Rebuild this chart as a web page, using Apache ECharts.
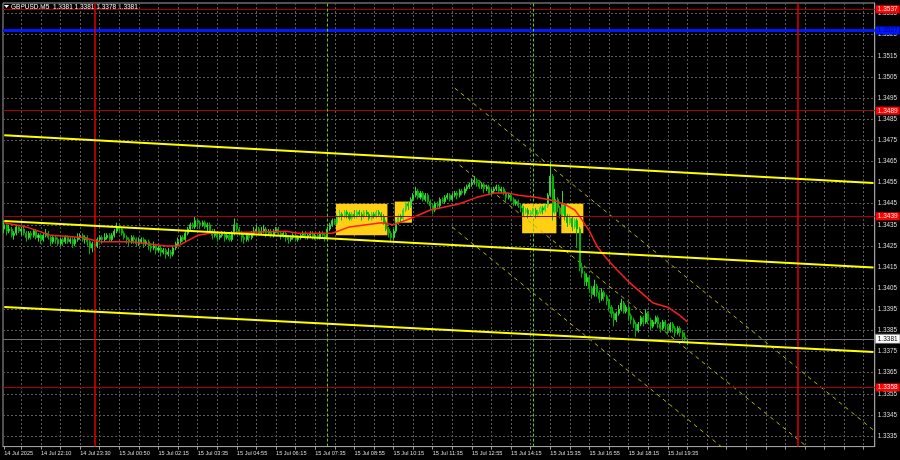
<!DOCTYPE html>
<html><head><meta charset="utf-8">
<script src="https://cdn.jsdelivr.net/npm/echarts@6/dist/echarts.min.js"></script>
<style>html,body{margin:0;padding:0;background:#000;}#c{width:900px;height:460px;}</style>
</head><body><div id="c"></div>
<script>
// ---------- DATA ----------
const symbolTitle = 'GBPUSD,M5  1.3381 1.3381 1.3378 1.3381';
const xTickIndex = [0, 15, 31, 47, 63, 79, 95, 111, 127, 143, 159, 175, 191, 207, 223, 239, 255, 271];
const xTickLabels = ['14 Jul 2025', '14 Jul 22:10', '14 Jul 23:30', '15 Jul 00:50', '15 Jul 02:15', '15 Jul 03:35',
  '15 Jul 04:55', '15 Jul 06:15', '15 Jul 07:35', '15 Jul 08:55', '15 Jul 10:15', '15 Jul 11:35', '15 Jul 12:55',
  '15 Jul 14:15', '15 Jul 15:35', '15 Jul 16:55', '15 Jul 18:15', '15 Jul 19:35'];
// [open, close, low, high]
const candles = [
[1.3433,1.3435,1.3431,1.3437],[1.3435,1.3432,1.3430,1.3436],[1.3432,1.3433,1.3431,1.3435],[1.3433,1.3430,1.3429,1.3434],
[1.3430,1.3431,1.3428,1.3432],[1.3431,1.3434,1.3430,1.3435],[1.3434,1.3432,1.3431,1.3435],[1.3432,1.3433,1.3430,1.3434],
[1.3433,1.3431,1.3430,1.3434],[1.3431,1.3429,1.3427,1.3432],[1.3429,1.3431,1.3428,1.3432],[1.3431,1.3430,1.3428,1.3432],
[1.3430,1.3432,1.3429,1.3433],[1.3432,1.3429,1.3428,1.3433],[1.3429,1.3430,1.3427,1.3431],[1.3430,1.3428,1.3426,1.3431],
[1.3428,1.3430,1.3427,1.3431],[1.3430,1.3431,1.3429,1.3433],[1.3431,1.3429,1.3428,1.3432],[1.3429,1.3427,1.3425,1.3430],
[1.3427,1.3429,1.3426,1.3430],[1.3429,1.3428,1.3426,1.3430],[1.3428,1.3426,1.3425,1.3429],[1.3426,1.3428,1.3425,1.3429],
[1.3428,1.3427,1.3425,1.3429],[1.3427,1.3429,1.3426,1.3430],[1.3429,1.3427,1.3426,1.3430],[1.3427,1.3428,1.3426,1.3429],
[1.3428,1.3426,1.3424,1.3429],[1.3426,1.3428,1.3425,1.3429],[1.3428,1.3429,1.3427,1.3431],[1.3429,1.3430,1.3428,1.3431],
[1.3430,1.3428,1.3427,1.3431],[1.3428,1.3429,1.3426,1.3430],[1.3429,1.3427,1.3425,1.3430],[1.3427,1.3424,1.3421,1.3428],
[1.3424,1.3426,1.3422,1.3427],[1.3426,1.3425,1.3423,1.3428],[1.3425,1.3428,1.3424,1.3429],[1.3428,1.3429,1.3427,1.3430],
[1.3429,1.3428,1.3426,1.3430],[1.3428,1.3429,1.3427,1.3431],[1.3429,1.3430,1.3428,1.3431],[1.3430,1.3428,1.3427,1.3431],
[1.3428,1.3430,1.3427,1.3431],[1.3430,1.3432,1.3429,1.3433],[1.3432,1.3434,1.3431,1.3436],[1.3434,1.3433,1.3431,1.3435],
[1.3433,1.3431,1.3430,1.3434],[1.3431,1.3429,1.3428,1.3432],[1.3429,1.3428,1.3426,1.3430],[1.3428,1.3427,1.3425,1.3429],
[1.3427,1.3429,1.3426,1.3430],[1.3429,1.3428,1.3426,1.3430],[1.3428,1.3426,1.3425,1.3429],[1.3426,1.3427,1.3425,1.3429],
[1.3427,1.3428,1.3426,1.3429],[1.3428,1.3426,1.3424,1.3429],[1.3426,1.3427,1.3425,1.3428],[1.3427,1.3425,1.3423,1.3428],
[1.3425,1.3424,1.3422,1.3426],[1.3424,1.3425,1.3423,1.3427],[1.3425,1.3423,1.3421,1.3426],[1.3423,1.3424,1.3422,1.3425],
[1.3424,1.3422,1.3420,1.3425],[1.3422,1.3423,1.3421,1.3424],[1.3423,1.3421,1.3419,1.3424],[1.3421,1.3422,1.3420,1.3424],
[1.3422,1.3421,1.3419,1.3423],[1.3421,1.3424,1.3420,1.3425],[1.3424,1.3426,1.3423,1.3427],[1.3426,1.3427,1.3425,1.3429],
[1.3427,1.3429,1.3426,1.3430],[1.3429,1.3428,1.3427,1.3430],[1.3428,1.3431,1.3427,1.3432],[1.3431,1.3433,1.3430,1.3434],
[1.3433,1.3435,1.3432,1.3436],[1.3435,1.3434,1.3433,1.3436],[1.3434,1.3437,1.3433,1.3439],[1.3437,1.3436,1.3434,1.3438],
[1.3436,1.3435,1.3433,1.3437],[1.3435,1.3436,1.3434,1.3437],[1.3436,1.3434,1.3433,1.3437],[1.3434,1.3435,1.3432,1.3436],
[1.3435,1.3432,1.3431,1.3436],[1.3432,1.3430,1.3428,1.3433],[1.3430,1.3431,1.3429,1.3433],[1.3431,1.3429,1.3427,1.3432],
[1.3429,1.3430,1.3428,1.3431],[1.3430,1.3431,1.3429,1.3432],[1.3431,1.3429,1.3427,1.3432],[1.3429,1.3430,1.3428,1.3431],
[1.3430,1.3428,1.3427,1.3431],[1.3428,1.3431,1.3427,1.3432],[1.3431,1.3435,1.3430,1.3438],[1.3435,1.3433,1.3431,1.3436],
[1.3433,1.3431,1.3430,1.3434],[1.3431,1.3429,1.3427,1.3432],[1.3429,1.3428,1.3426,1.3430],[1.3428,1.3430,1.3427,1.3431],
[1.3430,1.3429,1.3427,1.3431],[1.3429,1.3431,1.3428,1.3432],[1.3431,1.3432,1.3430,1.3434],[1.3432,1.3433,1.3431,1.3435],
[1.3433,1.3431,1.3430,1.3434],[1.3431,1.3432,1.3430,1.3434],[1.3432,1.3433,1.3431,1.3435],[1.3433,1.3431,1.3429,1.3434],
[1.3431,1.3432,1.3430,1.3433],[1.3432,1.3430,1.3429,1.3433],[1.3430,1.3432,1.3429,1.3433],[1.3432,1.3433,1.3431,1.3434],
[1.3433,1.3431,1.3430,1.3434],[1.3431,1.3430,1.3428,1.3432],[1.3430,1.3431,1.3429,1.3432],[1.3431,1.3429,1.3427,1.3432],
[1.3429,1.3428,1.3426,1.3430],[1.3428,1.3429,1.3427,1.3430],[1.3429,1.3430,1.3428,1.3431],[1.3430,1.3428,1.3427,1.3431],
[1.3428,1.3429,1.3427,1.3430],[1.3429,1.3430,1.3428,1.3431],[1.3430,1.3431,1.3429,1.3432],[1.3431,1.3429,1.3428,1.3432],
[1.3429,1.3430,1.3428,1.3431],[1.3430,1.3431,1.3429,1.3432],[1.3431,1.3429,1.3428,1.3432],[1.3429,1.3430,1.3428,1.3431],
[1.3430,1.3429,1.3428,1.3431],[1.3429,1.3431,1.3428,1.3432],[1.3431,1.3430,1.3429,1.3432],[1.3430,1.3429,1.3427,1.3431],
[1.3429,1.3433,1.3428,1.3434],[1.3433,1.3435,1.3432,1.3436],[1.3435,1.3437,1.3434,1.3438],[1.3437,1.3436,1.3435,1.3438],
[1.3436,1.3439,1.3435,1.3440],[1.3439,1.3440,1.3438,1.3442],[1.3440,1.3439,1.3437,1.3441],[1.3439,1.3441,1.3438,1.3442],
[1.3441,1.3440,1.3438,1.3442],[1.3440,1.3438,1.3437,1.3441],[1.3438,1.3440,1.3437,1.3441],[1.3440,1.3439,1.3438,1.3442],
[1.3439,1.3441,1.3438,1.3442],[1.3441,1.3440,1.3439,1.3442],[1.3440,1.3439,1.3437,1.3441],[1.3439,1.3441,1.3438,1.3442],
[1.3441,1.3440,1.3439,1.3442],[1.3440,1.3438,1.3437,1.3441],[1.3438,1.3440,1.3437,1.3441],[1.3440,1.3439,1.3438,1.3441],
[1.3439,1.3441,1.3438,1.3442],[1.3441,1.3440,1.3439,1.3442],[1.3440,1.3439,1.3437,1.3441],[1.3439,1.3436,1.3435,1.3440],
[1.3436,1.3433,1.3432,1.3437],[1.3433,1.3431,1.3429,1.3434],[1.3431,1.3429,1.3427,1.3432],[1.3429,1.3432,1.3428,1.3433],
[1.3432,1.3436,1.3431,1.3437],[1.3436,1.3439,1.3435,1.3440],[1.3439,1.3438,1.3436,1.3440],[1.3438,1.3442,1.3437,1.3443],
[1.3442,1.3445,1.3441,1.3446],[1.3445,1.3444,1.3442,1.3446],[1.3444,1.3447,1.3443,1.3448],[1.3447,1.3449,1.3446,1.3450],
[1.3449,1.3451,1.3448,1.3453],[1.3451,1.3448,1.3447,1.3452],[1.3448,1.3450,1.3447,1.3451],[1.3450,1.3447,1.3446,1.3451],
[1.3447,1.3449,1.3446,1.3450],[1.3449,1.3446,1.3445,1.3450],[1.3446,1.3444,1.3442,1.3447],[1.3444,1.3442,1.3440,1.3445],
[1.3442,1.3445,1.3441,1.3446],[1.3445,1.3444,1.3443,1.3446],[1.3444,1.3447,1.3443,1.3448],[1.3447,1.3446,1.3445,1.3448],
[1.3446,1.3448,1.3445,1.3449],[1.3448,1.3449,1.3447,1.3450],[1.3449,1.3447,1.3446,1.3450],[1.3447,1.3449,1.3446,1.3450],
[1.3449,1.3450,1.3448,1.3451],[1.3450,1.3449,1.3447,1.3451],[1.3449,1.3451,1.3448,1.3452],[1.3451,1.3450,1.3449,1.3452],
[1.3450,1.3452,1.3449,1.3453],[1.3452,1.3453,1.3451,1.3454],[1.3453,1.3454,1.3452,1.3455],[1.3454,1.3455,1.3453,1.3457],
[1.3455,1.3456,1.3454,1.3458],[1.3456,1.3455,1.3453,1.3457],[1.3455,1.3453,1.3452,1.3456],[1.3453,1.3454,1.3452,1.3455],
[1.3454,1.3452,1.3450,1.3455],[1.3452,1.3453,1.3451,1.3454],[1.3453,1.3450,1.3449,1.3454],[1.3450,1.3451,1.3449,1.3452],
[1.3451,1.3452,1.3450,1.3453],[1.3452,1.3453,1.3451,1.3454],[1.3453,1.3451,1.3450,1.3454],[1.3451,1.3452,1.3450,1.3453],
[1.3452,1.3450,1.3449,1.3453],[1.3450,1.3448,1.3446,1.3451],[1.3448,1.3449,1.3447,1.3450],[1.3449,1.3447,1.3446,1.3450],
[1.3447,1.3445,1.3444,1.3448],[1.3445,1.3446,1.3444,1.3447],[1.3446,1.3444,1.3443,1.3447],[1.3444,1.3443,1.3441,1.3445],
[1.3443,1.3441,1.3439,1.3444],[1.3441,1.3442,1.3440,1.3443],[1.3442,1.3440,1.3438,1.3443],[1.3440,1.3441,1.3439,1.3442],
[1.3441,1.3442,1.3440,1.3443],[1.3442,1.3440,1.3438,1.3443],[1.3440,1.3441,1.3439,1.3442],[1.3441,1.3443,1.3440,1.3444],
[1.3443,1.3442,1.3440,1.3444],[1.3442,1.3444,1.3441,1.3445],[1.3444,1.3449,1.3443,1.3450],[1.3449,1.3458,1.3448,1.3465],
[1.3458,1.3441,1.3437,1.3459],[1.3441,1.3447,1.3440,1.3452],[1.3447,1.3443,1.3441,1.3448],[1.3443,1.3440,1.3438,1.3444],
[1.3440,1.3444,1.3439,1.3451],[1.3444,1.3439,1.3437,1.3445],[1.3439,1.3436,1.3434,1.3440],[1.3436,1.3438,1.3435,1.3440],
[1.3438,1.3434,1.3432,1.3439],[1.3434,1.3437,1.3433,1.3438],[1.3437,1.3433,1.3424,1.3438],[1.3433,1.3415,1.3413,1.3434],
[1.3415,1.3412,1.3410,1.3417],[1.3412,1.3408,1.3406,1.3413],[1.3408,1.3410,1.3406,1.3412],[1.3410,1.3405,1.3403,1.3411],
[1.3405,1.3402,1.3400,1.3406],[1.3402,1.3406,1.3401,1.3409],[1.3406,1.3403,1.3401,1.3407],[1.3403,1.3400,1.3398,1.3404],
[1.3400,1.3403,1.3399,1.3405],[1.3403,1.3401,1.3399,1.3404],[1.3401,1.3399,1.3397,1.3402],[1.3399,1.3396,1.3394,1.3400],
[1.3396,1.3393,1.3391,1.3397],[1.3393,1.3390,1.3387,1.3394],[1.3390,1.3393,1.3389,1.3394],[1.3393,1.3395,1.3392,1.3397],
[1.3395,1.3398,1.3394,1.3400],[1.3398,1.3394,1.3393,1.3399],[1.3394,1.3396,1.3393,1.3397],[1.3396,1.3392,1.3390,1.3397],
[1.3392,1.3390,1.3388,1.3393],[1.3390,1.3388,1.3386,1.3391],[1.3388,1.3385,1.3382,1.3389],[1.3385,1.3388,1.3384,1.3389],
[1.3388,1.3391,1.3387,1.3392],[1.3391,1.3389,1.3387,1.3392],[1.3389,1.3393,1.3388,1.3395],[1.3393,1.3390,1.3388,1.3394],
[1.3390,1.3387,1.3385,1.3391],[1.3387,1.3389,1.3386,1.3390],[1.3389,1.3391,1.3388,1.3392],[1.3391,1.3388,1.3386,1.3392],
[1.3388,1.3386,1.3384,1.3389],[1.3386,1.3389,1.3385,1.3390],[1.3389,1.3387,1.3385,1.3390],[1.3387,1.3385,1.3383,1.3388],
[1.3385,1.3388,1.3384,1.3389],[1.3388,1.3386,1.3384,1.3389],[1.3386,1.3384,1.3382,1.3387],[1.3384,1.3386,1.3383,1.3387],
[1.3386,1.3384,1.3382,1.3387],[1.3384,1.3382,1.3380,1.3385],[1.3382,1.3381,1.3380,1.3384],[1.3381,1.3381,1.3378,1.3381]
];
// moving average read at sample bars: [barIndex, price]
const maLine = [[0,1.3436],[9,1.3434],[19,1.3430],[32,1.3429],[39,1.3427],[52,1.3427],[66,1.3425],[71,1.3425],[79,1.3430],
  [84,1.3431],[115,1.3432],[120,1.3431],[134,1.3431],[141,1.3434],[154,1.3436],[159,1.3435],[166,1.3438],[174,1.3442],
  [178,1.3443],[186,1.3445],[193,1.3448],[200,1.3450],[206,1.3450],[210,1.3449],[217,1.3448],[222,1.3447],[226,1.3446],
  [230,1.3444],[233,1.3442],[235,1.3439],[239,1.3432],[242,1.3425],[246,1.3419],[250,1.3414],[255,1.3408],[260,1.3403],
  [265,1.3398],[271,1.3396],[276,1.3392],[279,1.3389]];
const upperTrend = [[0,1.34774],[355,1.34548]];
const middleTrend = [[0,1.34368],[355,1.34148]];
const lowerTrend = [[0,1.33961],[355,1.33748]];
const dashLine1 = [[184,1.34997],[355,1.33378]];
const dashLine2 = [[186,1.34633],[332,1.33260]];
const dashLine3 = [[183,1.34339],[297,1.33260]];
// [firstBar, lastBar, lowPrice, highPrice]
const boxes = [[136,156,1.3430,1.3445],[160,166,1.3436,1.3446],[212,225,1.3431,1.3445],[228,236,1.3431,1.3445]];
const redLevels = [1.3537, 1.3489, 1.3439, 1.3358];
const blueLevel = 1.3527;
const bidLevel = 1.3381;
const daySeparators = [37, 324];
const sessionLines = [132, 216];

// ---------- CATEGORIES (5-minute bars, one missing bar at 01:00) ----------
const totalSlots = 356;
const months = ['Jan','Feb','Mar','Apr','May','Jun','Jul','Aug','Sep','Oct','Nov','Dec'];
const categories = [];
{
  let t = Date.UTC(2025, 6, 14, 20, 55);
  const skip = Date.UTC(2025, 6, 15, 1, 0);
  while (categories.length < totalSlots) {
    if (t !== skip) {
      const d = new Date(t);
      const hh = String(d.getUTCHours()).padStart(2, '0');
      const mm = String(d.getUTCMinutes()).padStart(2, '0');
      categories.push(d.getUTCDate() + ' ' + months[d.getUTCMonth()] + ' ' + hh + ':' + mm);
    }
    t += 300000;
  }
}
const labelMap = {};
xTickIndex.forEach((ix, k) => { labelMap[ix] = xTickLabels[k]; });
const gridTick = (i) => i >= 7 && (i - 7) % 8 === 0;

const FONT = 'Liberation Sans';
const tag = (bg, fg, txt, border) => ({
  show: true, position: 'end', distance: 1, formatter: txt,
  backgroundColor: bg, color: fg, fontSize: 6.5, fontFamily: FONT,
  padding: [1, 2, 0, 2], borderColor: border || bg, borderWidth: border ? 1 : 0
});

const markData = [];
redLevels.forEach(v => markData.push({
  yAxis: v, lineStyle: { color: '#a80000', width: 1, type: 'solid' },
  label: tag('#ff0000', '#ffe8e8', v.toFixed(4))
}));
markData.push({ yAxis: blueLevel, lineStyle: { color: '#0018ff', width: 3, type: 'solid' },
  label: tag('#0018ff', '#000080', blueLevel.toFixed(4)) });
markData.push({ yAxis: bidLevel, lineStyle: { color: '#707070', width: 1, type: 'solid' },
  label: tag('#ffffff', '#000000', bidLevel.toFixed(4), '#808080') });
daySeparators.forEach(i => markData.push({ xAxis: categories[i], lineStyle: { color: '#e00000', width: 1.5, type: 'solid' }, label: { show: false } }));
sessionLines.forEach(i => markData.push({ xAxis: categories[i], lineStyle: { color: '#6acc00', width: 1, type: [3, 2] }, label: { show: false } }));

const lineSeries = (data, color, width, type, z) => ({
  type: 'line', data, showSymbol: false, symbol: 'none', silent: true, z,
  lineStyle: { color, width, type }, clip: true, animation: false
});

const chart = echarts.init(document.getElementById('c'), null, { renderer: 'canvas' });
chart.setOption({
  backgroundColor: '#000000',
  animation: false,
  textStyle: { fontFamily: FONT },
  grid: { left: 3, right: 24.5, top: 3, bottom: 13.4, show: true, borderColor: '#a0a0a0', borderWidth: 1, containLabel: false },
  xAxis: {
    type: 'category', data: categories, boundaryGap: true,
    axisLine: { show: true, lineStyle: { color: '#a0a0a0' } },
    axisTick: { show: true, alignWithLabel: true, interval: (i) => gridTick(i) || i === 0, length: 3, lineStyle: { color: '#a0a0a0' } },
    axisLabel: { interval: (i) => labelMap[i] !== undefined, formatter: (v, i) => labelMap[i] || '',
      align: 'left', color: '#dcdcdc', fontSize: 5.6, fontFamily: FONT, margin: 4 },
    splitLine: { show: true, alignWithLabel: true, interval: gridTick, lineStyle: { color: '#5a5a5a', type: [2, 2], width: 1 } }
  },
  yAxis: {
    type: 'value', position: 'right', min: 1.3330, max: 1.3540, interval: 0.0005,
    axisLine: { show: true, lineStyle: { color: '#a0a0a0' } },
    axisTick: { show: false },
    axisLabel: { color: '#dcdcdc', fontSize: 6.3, fontFamily: FONT, margin: 3,
      formatter: (v) => (Math.round(v * 10000) % 10 === 5) ? v.toFixed(4) : '' },
    splitLine: { show: true, lineStyle: { color: ['rgba(0,0,0,0)', '#5a5a5a'], type: [2, 2], width: 1 } }
  },
  graphic: [
    { type: 'polygon', shape: { points: [[4, 5], [9, 5], [6.5, 8]] }, style: { fill: '#ffffff' } },
    { type: 'text', left: 11, top: 3.5, style: { text: symbolTitle, fill: '#ffffff', font: '6.5px "Liberation Sans"' } }
  ],
  series: [
    { type: 'custom', silent: true, z: 1, data: boxes, encode: { x: [0, 1], y: [2, 3] },
      renderItem: (params, api) => {
        const a = api.coord([api.value(0), api.value(3)]);
        const b = api.coord([api.value(1), api.value(2)]);
        const w = api.size([1, 0])[0];
        return { type: 'rect', shape: { x: a[0] - w / 2, y: a[1], width: b[0] - a[0] + w, height: b[1] - a[1] },
          style: { fill: '#ffcf14' } };
      } },
    { type: 'candlestick', data: candles, z: 3, barWidth: '62%', silent: true,
      itemStyle: { color: '#5cf05c', color0: '#00a000', borderColor: '#33d633', borderColor0: '#00b400', borderWidth: 1 },
      markLine: { symbol: ['none', 'none'], silent: true, animation: false, precision: 4, z: 5, data: markData } },
    lineSeries(maLine, '#ff1e1e', 1.5, 'solid', 4),
    lineSeries(upperTrend, '#ffff00', 2, 'solid', 6),
    lineSeries(middleTrend, '#ffff00', 2, 'solid', 6),
    lineSeries(lowerTrend, '#ffff00', 2, 'solid', 6),
    lineSeries(dashLine1, '#b8b800', 1, [4, 4], 2),
    lineSeries(dashLine2, '#b8b800', 1, [4, 4], 2),
    lineSeries(dashLine3, '#b8b800', 1, [4, 4], 2)
  ]
});
</script></body></html>
